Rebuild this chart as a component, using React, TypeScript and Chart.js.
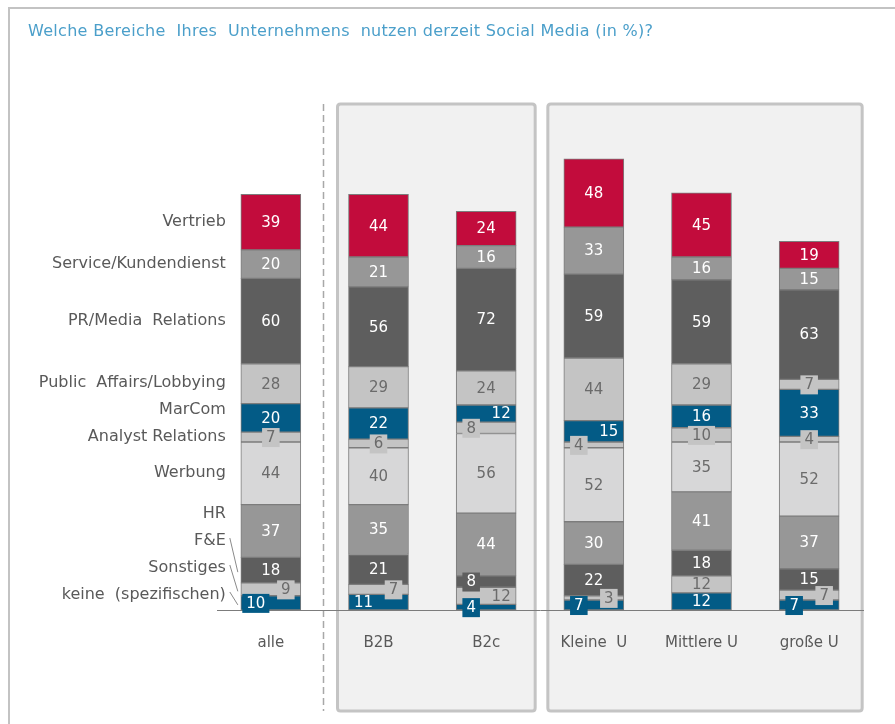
import React, { useEffect, useRef } from 'react';
import { Chart, registerables } from 'chart.js';

Chart.register(...registerables);

const TITLE = 'Welche Bereiche  Ihres  Unternehmens  nutzen derzeit Social Media (in %)?';

const categories = ['alle', 'B2B', 'B2c', 'Kleine  U', 'Mittlere U', 'große U'];

// series, bottom to top of each stack
const seriesNames = [
  'keine  (spezifischen)',
  'Sonstiges',
  'F&E',
  'HR',
  'Werbung',
  'Analyst Relations',
  'MarCom',
  'Public  Affairs/Lobbying',
  'PR/Media  Relations',
  'Service/Kundendienst',
  'Vertrieb',
];

const keine = [10, 11, 4, 7, 12, 7];
const sonstiges = [9, 7, 12, 3, 12, 7];
const fue = [18, 21, 8, 22, 18, 15];
const hr = [37, 35, 44, 30, 41, 37];
const werbung = [44, 40, 56, 52, 35, 52];
const analyst = [7, 6, 8, 4, 10, 4];
const marcom = [20, 22, 12, 15, 16, 33];
const publicAffairs = [28, 29, 24, 44, 29, 7];
const prMedia = [60, 56, 72, 59, 59, 63];
const service = [20, 21, 16, 33, 16, 15];
const vertrieb = [39, 44, 24, 48, 45, 19];

const seriesValues = [keine, sonstiges, fue, hr, werbung, analyst, marcom, publicAffairs, prMedia, service, vertrieb];

const BLUE = '#035b86';
const RED = '#c20c3c';
const DARK = '#5e5e5e';
const MID = '#979797';
const LIGHT = '#c4c4c4';
const PALE = '#d7d7d8';

const seriesColors = [BLUE, LIGHT, DARK, MID, PALE, LIGHT, BLUE, LIGHT, DARK, MID, RED];
const seriesTextColors = ['#ffffff', '#6b6b6b', '#ffffff', '#ffffff', '#6b6b6b', '#6b6b6b', '#ffffff', '#6b6b6b', '#ffffff', '#ffffff', '#ffffff'];

// label placement inside bar: -1 left, 0 centre, 1 right
const labelShift = [
  [-1, -1, -1, -1, 0, -1],
  [1, 1, 1, 1, 0, 1],
  [0, 0, -1, 0, 0, 0],
  [0, 0, 0, 0, 0, 0],
  [0, 0, 0, 0, 0, 0],
  [0, 0, -1, -1, 0, 0],
  [0, 0, 1, 1, 0, 0],
  [0, 0, 0, 0, 0, 0],
  [0, 0, 0, 0, 0, 0],
  [0, 0, 0, 0, 0, 0],
  [0, 0, 0, 0, 0, 0],
];

const leaderSeries = [0, 1, 2];

const FONT = '"DejaVu Sans", Verdana, sans-serif';

function roundRect(ctx: CanvasRenderingContext2D, x1: number, y1: number, x2: number, y2: number, r: number) {
  ctx.beginPath();
  ctx.moveTo(x1 + r, y1);
  ctx.lineTo(x2 - r, y1);
  ctx.quadraticCurveTo(x2, y1, x2, y1 + r);
  ctx.lineTo(x2, y2 - r);
  ctx.quadraticCurveTo(x2, y2, x2 - r, y2);
  ctx.lineTo(x1 + r, y2);
  ctx.quadraticCurveTo(x1, y2, x1, y2 - r);
  ctx.lineTo(x1, y1 + r);
  ctx.quadraticCurveTo(x1, y1, x1 + r, y1);
  ctx.closePath();
}

const decorPlugin = {
  id: 'decor',
  beforeDraw(chart: any) {
    const { ctx, chartArea } = chart;
    const xs = chart.scales.x;
    const c = (i: number) => xs.getPixelForValue(i);
    const half = 30;
    const top = chartArea.top - 22;
    const bottom = chart.height - 13;
    ctx.save();
    const panel = (x1: number, x2: number) => {
      roundRect(ctx, x1, top, x2, bottom, 3);
      ctx.fillStyle = '#f1f1f1';
      ctx.fill();
      ctx.lineWidth = 3;
      ctx.strokeStyle = '#c4c4c4';
      ctx.stroke();
    };
    panel(c(1) - half - 11, c(2) + half + 19);
    panel(c(3) - half - 16, c(5) + half + 23);
    // dashed separator
    const dx = Math.round((c(0) + c(1)) / 2 - 2) + 0.5;
    ctx.setLineDash([7, 4]);
    ctx.lineWidth = 1.5;
    ctx.strokeStyle = '#a8a8a8';
    ctx.beginPath();
    ctx.moveTo(dx, top);
    ctx.lineTo(dx, bottom);
    ctx.stroke();
    ctx.restore();
  },
  afterDatasetsDraw(chart: any) {
    const { ctx } = chart;
    ctx.save();
    ctx.font = `15px ${FONT}`;
    ctx.textAlign = 'center';
    ctx.textBaseline = 'middle';
    chart.data.datasets.forEach((ds: any, i: number) => {
      const meta = chart.getDatasetMeta(i);
      meta.data.forEach((el: any, j: number) => {
        const v = ds.data[j];
        const cy = (el.y + el.base) / 2;
        const tx = el.x + labelShift[i][j] * 15;
        const txt = String(v);
        if (v <= 10) {
          const w = ctx.measureText(txt).width;
          ctx.fillStyle = seriesColors[i];
          ctx.fillRect(tx - w / 2 - 4, cy - 9, w + 8, 19);
        }
        ctx.fillStyle = seriesTextColors[i];
        ctx.fillText(txt, tx, cy + 1);
      });
    });

    // series labels at the left of the first bar
    const meta0 = seriesNames.map((_, i) => chart.getDatasetMeta(i).data[0]);
    const baseY = meta0[0].base;
    const barLeft = meta0[0].x - 30;
    const labelRight = barLeft - 15;
    ctx.font = `16px ${FONT}`;
    ctx.textAlign = 'right';
    ctx.fillStyle = '#595959';
    let prev = baseY - 15 + 27;
    const ys: number[] = [];
    meta0.forEach((el: any, i: number) => {
      const cy = (el.y + el.base) / 2;
      const y = Math.min(cy, prev - 27);
      ys.push(y);
      prev = y;
      ctx.fillText(seriesNames[i], labelRight, y);
    });
    ctx.strokeStyle = '#8a8a8a';
    ctx.lineWidth = 1;
    leaderSeries.forEach((i) => {
      const el = meta0[i];
      const cy = (el.y + el.base) / 2;
      ctx.beginPath();
      ctx.moveTo(labelRight + 4, ys[i] - 3);
      ctx.lineTo(barLeft - 3, cy + 2);
      ctx.stroke();
    });
    ctx.restore();
  },
};

export default function App() {
  const ref = useRef<HTMLCanvasElement | null>(null);
  useEffect(() => {
    if (!ref.current) return;
    const chart = new Chart(ref.current, {
      type: 'bar',
      data: {
        labels: categories,
        datasets: seriesValues.map((vals, i) => ({
          label: seriesNames[i],
          data: vals,
          backgroundColor: seriesColors[i],
          borderColor: '#7c7c7c',
          borderWidth: 1,
          borderSkipped: false,
          barThickness: 60,
        })),
      },
      options: {
        responsive: false,
        animation: false,
        layout: { padding: { left: 217, right: 32, top: 126, bottom: 48 } },
        plugins: {
          legend: { display: false },
          tooltip: { enabled: false },
          title: { display: false },
        },
        scales: {
          x: {
            stacked: true,
            grid: { display: false, drawTicks: false },
            border: { display: true, color: '#7c7c7c', width: 1 },
            ticks: {
              color: '#595959',
              font: { family: FONT, size: 15 },
              padding: 24,
              maxRotation: 0,
              autoSkip: false,
            },
          },
          y: { stacked: true, display: false, min: 0, max: 340 },
        },
      },
      plugins: [decorPlugin],
    });
    return () => chart.destroy();
  }, []);

  return (
    <div style={{ position: 'fixed', left: 0, top: 0, width: 895, height: 724, background: '#ffffff', overflow: 'hidden' }}>
      <div
        style={{
          position: 'absolute',
          left: 8,
          top: 7,
          width: 900,
          height: 730,
          borderTop: '2px solid #c3c3c3',
          borderLeft: '2px solid #c3c3c3',
        }}
      />
      <canvas ref={ref} width={895} height={724} style={{ position: 'absolute', left: 0, top: 0 }} />
      <div
        style={{
          position: 'absolute',
          left: 28,
          top: 21,
          fontFamily: FONT,
          fontSize: 16,
          letterSpacing: '0.3px',
          color: '#4b9fca',
          whiteSpace: 'pre',
          lineHeight: '20px',
        }}
      >
        {TITLE}
      </div>
    </div>
  );
}
